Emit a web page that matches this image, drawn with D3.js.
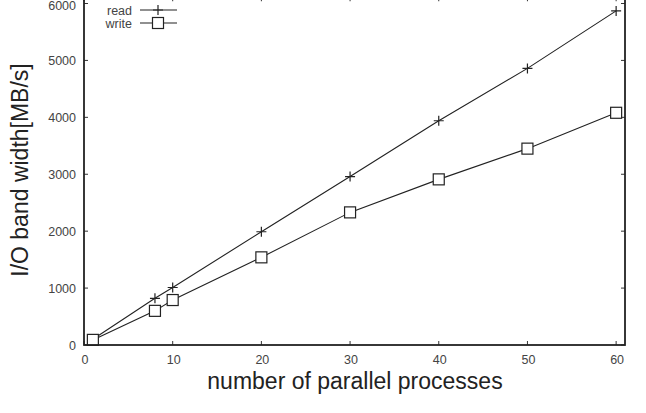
<!doctype html>
<html lang="en">
<head>
  <meta charset="utf-8">
  <script src="https://cdn.jsdelivr.net/npm/d3@7"></script>
  <style type="text/css">
    body { margin: 0; background: #fff; }
    svg { display: block; font-family: "Liberation Sans", Arial, sans-serif; }
    .tick-label { font-size: 12.5px; fill: #444; }
    .title { font-size: 23px; fill: #222; }
    .key { font-size: 12.5px; fill: #444; }
    .series { fill: none; stroke: #222; stroke-width: 1.1; }
  </style>
</head>
<body>
<div id="container"></div>
<script type="text/javascript">

  // Values
  var processes = [1, 8, 10, 20, 30, 40, 50, 60];
  var readBw = [100, 820, 1010, 1990, 2960, 3940, 4860, 5870];
  var writeBw = [90, 600, 790, 1540, 2330, 2910, 3450, 4080];
  var xTicks = [0, 10, 20, 30, 40, 50, 60];
  var yTicks = [0, 1000, 2000, 3000, 4000, 5000, 6000];

  var width = 646, height = 413;

  var svg = d3.select("#container")
    .append("svg")
    .attr("width", width)
    .attr("height", height);

  // Plot frame runs a little past 61 and 6000
  var xScale = d3.scaleLinear().domain([0, 61]).range([84, 625]);
  var yScale = d3.scaleLinear().domain([0, 6000]).range([345, 3.5]);
  var x0 = xScale(0), x1 = xScale(61), y0 = yScale(0), y1 = yScale(6110);
  var tick = 4;

  // Tick marks, inward and mirrored
  var g = svg.append("g").attr("stroke", "#333").attr("stroke-width", 1);
  xTicks.forEach(function(t) {
    g.append("line").attr("x1", xScale(t)).attr("x2", xScale(t)).attr("y1", y0).attr("y2", y0 - tick);
    g.append("line").attr("x1", xScale(t)).attr("x2", xScale(t)).attr("y1", y1).attr("y2", y1 + tick);
  });
  yTicks.forEach(function(t) {
    g.append("line").attr("x1", x0).attr("x2", x0 + tick).attr("y1", yScale(t)).attr("y2", yScale(t));
    g.append("line").attr("x1", x1).attr("x2", x1 - tick).attr("y1", yScale(t)).attr("y2", yScale(t));
  });

  // Tick labels
  svg.selectAll(".xl")
    .data(xTicks)
    .enter()
    .append("text")
    .attr("class", "tick-label")
    .attr("x", function(d) { return xScale(d) + 1; })
    .attr("y", y0 + 19)
    .attr("text-anchor", "middle")
    .text(function(d) { return d; });
  // top label sits right at the edge, keep it inside the window
  svg.selectAll(".yl")
    .data(yTicks)
    .enter()
    .append("text")
    .attr("class", "tick-label")
    .attr("x", x0 - 8)
    .attr("y", function(d) { return Math.max(yScale(d) + 4.5, 10); })
    .attr("text-anchor", "end")
    .text(function(d) { return d; });

  // Series lines
  var line = d3.line()
    .x(function(d) { return xScale(d[0]); })
    .y(function(d) { return yScale(d[1]); });
  var readPts = processes.map(function(p, i) { return [p, readBw[i]]; });
  var writePts = processes.map(function(p, i) { return [p, writeBw[i]]; });
  svg.append("path").attr("class", "series").attr("d", line(readPts));
  svg.append("path").attr("class", "series").attr("d", line(writePts));

  function plus(sel, cx, cy) {
    sel.append("path")
      .attr("d", "M" + (cx - 5) + "," + cy + "H" + (cx + 5) + "M" + cx + "," + (cy - 5) + "V" + (cy + 5))
      .attr("stroke", "#222").attr("stroke-width", 1.2).attr("fill", "none");
  }
  function square(sel, cx, cy) {
    sel.append("rect")
      .attr("x", cx - 5.5).attr("y", cy - 5.5).attr("width", 11).attr("height", 11)
      .attr("fill", "#fff").attr("stroke", "#222").attr("stroke-width", 1.2);
  }

  readPts.forEach(function(d) { plus(svg, xScale(d[0]), yScale(d[1])); });
  writePts.forEach(function(d) { square(svg, xScale(d[0]), yScale(d[1])); });

  // Frame
  svg.append("rect")
    .attr("x", x0).attr("y", y1)
    .attr("width", x1 - x0).attr("height", y0 - y1)
    .attr("fill", "none").attr("stroke", "#222").attr("stroke-width", 1.8);

  // Key
  var key = svg.append("g");
  [["read", 10, plus], ["write", 23, square]].forEach(function(k) {
    key.append("text").attr("class", "key")
      .attr("x", 132).attr("y", k[1] + 4.5)
      .attr("text-anchor", "end").text(k[0]);
    key.append("line")
      .attr("x1", 140).attr("x2", 177).attr("y1", k[1]).attr("y2", k[1])
      .attr("stroke", "#222").attr("stroke-width", 1.1);
    k[2](key, 158, k[1]);
  });

  // Axis titles
  svg.append("text").attr("class", "title")
    .attr("x", 355).attr("y", 389)
    .attr("text-anchor", "middle")
    .text("number of parallel processes");
  svg.append("text").attr("class", "title")
    .attr("transform", "translate(28,170) rotate(-90)")
    .attr("text-anchor", "middle")
    .text("I/O band width[MB/s]");

</script>
</body>
</html>
